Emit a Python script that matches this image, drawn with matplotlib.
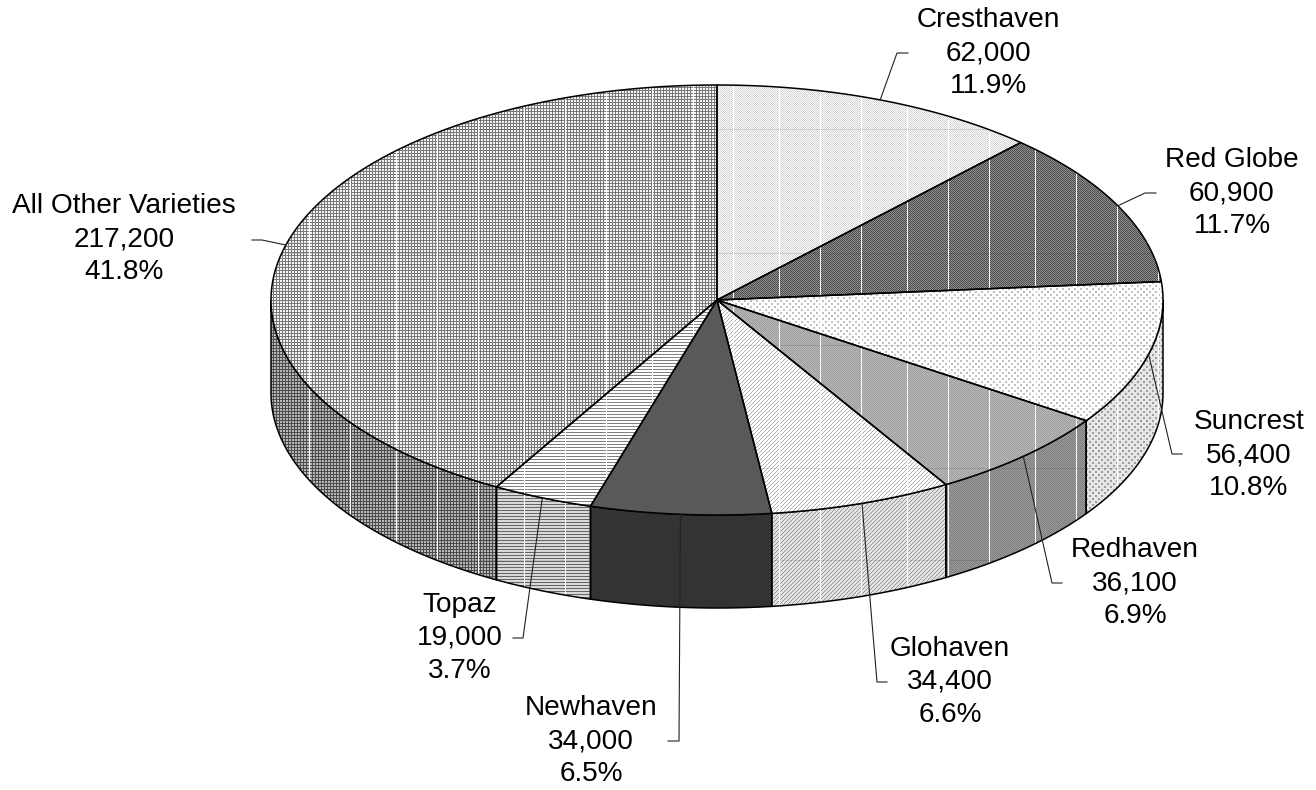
import numpy as np
import matplotlib
matplotlib.use('Agg')
import matplotlib.pyplot as plt
from matplotlib.patches import Polygon

plt.rcParams['font.family'] = ['Liberation Sans', 'DejaVu Sans']

varieties = ['Cresthaven', 'Red Globe', 'Suncrest', 'Redhaven', 'Glohaven',
             'Newhaven', 'Topaz', 'All Other Varieties']
acres = [62000, 60900, 56400, 36100, 34400, 34000, 19000, 217200]

W, H = 1316, 790
CX, CY, RX, RY, DEPTH = 717, 300, 446, 215, 93

# label centre and leader elbow/tick, in pixels
label_pos = [(988, 53), (1232, 193), (1249, 455), (1135, 583),
             (950, 682), (591, 741), (460, 638), (124, 239)]
leader_pos = [[(897, 53), (908, 53)], [(1145, 193), (1156, 193)],
              [(1172, 454), (1182, 454)], [(1052, 583), (1062, 583)],
              [(877, 682), (887, 682)], [(679, 741), (668, 741)],
              [(523, 638), (513, 638)], [(262, 240), (252, 240)]]

# little bitmaps behind the fills
checker = [[1, 0], [0, 1]]
dots = [[1, 1, 0, 0, 0, 0], [1, 1, 0, 0, 0, 0], [0, 0, 0, 0, 0, 0],
        [0, 0, 0, 1, 1, 0], [0, 0, 0, 1, 1, 0], [0, 0, 0, 0, 0, 0]]
diag = [[0, 0, 0, 1], [0, 0, 1, 0], [0, 1, 0, 0], [1, 0, 0, 0]]
hline = [[1], [0], [0]]
grid = [[1, 1, 1], [1, 0, 0], [1, 0, 0]]
solid = [[1]]

# pattern, top (fg, bg), side (fg, bg)
fills = [(checker, (0.82, 1.00), (0.82, 1.00)),
         (checker, (0.30, 0.56), (0.30, 0.56)),
         (dots, (0.75, 1.00), (0.62, 0.90)),
         (checker, (0.62, 0.72), (0.50, 0.60)),
         (diag, (0.68, 1.00), (0.60, 0.88)),
         (solid, (0.35, 0.35), (0.20, 0.20)),
         (hline, (0.50, 1.00), (0.40, 0.85)),
         (grid, (0.48, 0.95), (0.30, 0.72))]

# seams in the scan, white columns and faint dark rows
seam_cols = [309, 350, 396, 437, 478, 524, 565, 606, 652, 693, 733, 779, 820,
             861, 907, 948, 989, 1035, 1076, 1117, 1158]
seam_rows = [129, 253, 345, 468, 560]


def texture(pattern, fg, bg):
    pat = np.array(pattern)
    reps = (H // pat.shape[0] + 1, W // pat.shape[1] + 1)
    img = np.where(np.tile(pat, reps)[:H, :W] == 1, fg, bg).astype(float)
    if pattern is not solid:
        img[seam_rows, :] *= 0.88
        img[:, seam_cols] = 1.0
    return img


def rim(theta):
    return CX + RX * np.sin(theta), CY - RY * np.cos(theta)


def fill_patch(ax, pts, img, lw=1.1, z=1):
    patch = Polygon(pts, closed=True, fc='none', ec='black', lw=lw, zorder=z + 0.5,
                    joinstyle='round')
    ax.add_patch(patch)
    im = ax.imshow(img, cmap='gray', vmin=0, vmax=1, extent=(0, W, H, 0),
                   interpolation='nearest', zorder=z)
    im.set_clip_path(patch)


fig = plt.figure(figsize=(W / 100, H / 100), dpi=100)
ax = fig.add_axes([0, 0, 1, 1])

total = sum(acres)
edges = 2 * np.pi * np.concatenate([[0], np.cumsum(acres)]) / total

# side wall first, only the front half of the disc shows one
for i in range(len(acres)):
    a0, a1 = max(edges[i], np.pi / 2), min(edges[i + 1], 3 * np.pi / 2)
    if a1 <= a0:
        continue
    xs, ys = rim(np.linspace(a0, a1, 120))
    pts = np.column_stack([np.r_[xs, xs[::-1]], np.r_[ys, ys[::-1] + DEPTH]])
    pat, _, side = fills[i]
    fill_patch(ax, pts, texture(pat, *side), z=1)

# top of the disc
for i in range(len(acres)):
    xs, ys = rim(np.linspace(edges[i], edges[i + 1], 200))
    pts = np.column_stack([np.r_[CX, xs], np.r_[CY, ys]])
    pat, top, _ = fills[i]
    fill_patch(ax, pts, texture(pat, *top), z=3)

# labels and leaders
for i, name in enumerate(varieties):
    mid = (edges[i] + edges[i + 1]) / 2
    x0, y0 = rim(mid)
    lx = [x0] + [p[0] for p in leader_pos[i]]
    ly = [y0] + [p[1] for p in leader_pos[i]]
    ax.plot(lx, ly, color='#222222', lw=0.8, zorder=6)
    txt = f'{name}\n{acres[i]:,}\n{acres[i] / total:.1%}'
    ax.text(label_pos[i][0], label_pos[i][1], txt, ha='center', va='center',
            fontsize=20.2, linespacing=1.36, color='black', zorder=7)

ax.set_xlim(0, W)
ax.set_ylim(H, 0)
ax.axis('off')
fig.savefig('out.png', dpi=100, facecolor='white')
